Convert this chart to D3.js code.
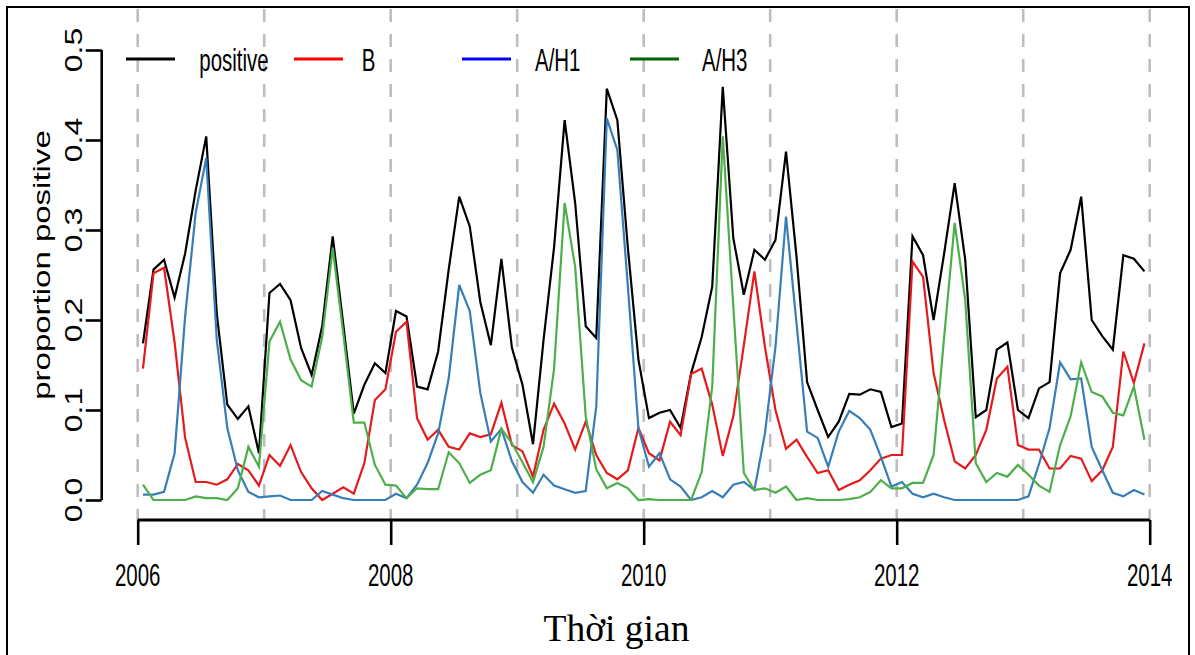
<!DOCTYPE html>
<html>
<head>
<meta charset="utf-8">
<script src="https://cdn.jsdelivr.net/npm/d3@7"></script>
<style>
html,body{margin:0;padding:0;background:#fff;}
svg{display:block;}
</style>
</head>
<body>
<svg id="chart" width="1195" height="655"></svg>
<script>
// ---- data (monthly, Jan 2006 .. Dec 2013) ----
const startYear = 2006;
const nMonths = 96;
const positive = [
0.174,0.256,0.267,0.225,0.274,0.344,0.404,0.207,0.106,0.090,0.104,0.052,
0.230,0.240,0.222,0.169,0.139,0.193,0.293,0.195,0.096,0.128,0.152,0.141,
0.210,0.204,0.126,0.123,0.165,0.256,0.337,0.304,0.220,0.172,0.268,0.169,
0.128,0.062,0.178,0.281,0.422,0.330,0.193,0.180,0.457,0.422,0.280,0.156,
0.091,0.097,0.100,0.080,0.141,0.181,0.237,0.459,0.291,0.228,0.278,0.267,
0.289,0.387,0.270,0.131,0.100,0.070,0.087,0.118,0.117,0.123,0.120,0.081,
0.085,0.293,0.272,0.200,0.274,0.352,0.267,0.092,0.100,0.167,0.175,0.100,
0.091,0.124,0.131,0.252,0.278,0.337,0.200,0.182,0.167,0.272,0.268,0.254];
const B = [
0.146,0.252,0.258,0.175,0.069,0.020,0.020,0.017,0.023,0.040,0.033,0.016,
0.050,0.038,0.061,0.031,0.013,0.000,0.007,0.014,0.007,0.041,0.111,0.123,
0.187,0.198,0.091,0.067,0.078,0.059,0.056,0.074,0.070,0.073,0.108,0.061,
0.054,0.026,0.078,0.107,0.085,0.056,0.087,0.050,0.030,0.023,0.033,0.080,
0.052,0.044,0.087,0.072,0.140,0.146,0.106,0.049,0.093,0.172,0.254,0.170,
0.100,0.057,0.067,0.048,0.030,0.033,0.011,0.017,0.022,0.033,0.046,0.050,
0.050,0.265,0.248,0.141,0.089,0.043,0.035,0.050,0.078,0.135,0.148,0.061,
0.056,0.056,0.035,0.035,0.049,0.046,0.021,0.033,0.059,0.165,0.130,0.174];
const H1 = [
0.006,0.006,0.009,0.052,0.204,0.319,0.380,0.178,0.080,0.033,0.009,0.003,
0.004,0.005,0.000,0.000,0.000,0.010,0.006,0.002,0.000,0.000,0.000,0.000,
0.007,0.002,0.017,0.041,0.074,0.135,0.239,0.210,0.119,0.065,0.079,0.043,
0.020,0.008,0.028,0.016,0.012,0.008,0.010,0.104,0.424,0.389,0.237,0.080,
0.037,0.052,0.023,0.015,0.000,0.003,0.010,0.003,0.017,0.020,0.011,0.074,
0.170,0.315,0.196,0.076,0.069,0.037,0.076,0.099,0.091,0.078,0.048,0.015,
0.020,0.007,0.003,0.007,0.003,0.000,0.000,0.000,0.000,0.000,0.000,0.000,
0.004,0.040,0.080,0.153,0.134,0.135,0.059,0.033,0.008,0.004,0.011,0.006];
const H3 = [
0.017,0.000,0.000,0.000,0.000,0.004,0.002,0.002,0.000,0.013,0.059,0.037,
0.176,0.198,0.156,0.133,0.126,0.181,0.280,0.185,0.086,0.086,0.039,0.017,
0.016,0.002,0.013,0.012,0.012,0.053,0.041,0.019,0.028,0.033,0.079,0.063,
0.042,0.020,0.059,0.146,0.330,0.259,0.093,0.034,0.013,0.019,0.013,0.000,
0.001,0.000,0.000,0.000,0.000,0.031,0.126,0.404,0.215,0.030,0.011,0.013,
0.008,0.015,0.000,0.002,0.000,0.000,0.000,0.001,0.003,0.009,0.022,0.013,
0.013,0.019,0.019,0.050,0.181,0.308,0.222,0.041,0.020,0.030,0.026,0.039,
0.028,0.016,0.009,0.061,0.093,0.153,0.120,0.115,0.097,0.094,0.126,0.067];

const seriesNames = ["positive","B","A/H1","A/H3"];
const lineColors = ["#000000","#E41A1C","#377EB8","#4DAF4A"];
const legendColors = ["#000000","#FF0000","#0000FF","#006400"];
const xTickValues = [2006,2008,2010,2012,2014];
const gridYears = [2006,2007,2008,2009,2010,2011,2012,2013,2014];
const yTickValues = [0,0.1,0.2,0.3,0.4,0.5];
const xTitle = "Thời gian";
const yTitle = "proportion positive";

// ---- layout ----
const svg = d3.select("#chart");
const x = d3.scaleLinear().domain([2006,2014]).range([137.7,1149.7]);
const y = d3.scaleLinear().domain([0,0.5]).range([500,50]);
const sx = 0.65; // horizontal compression of glyphs
const font = "'Liberation Sans', Arial, sans-serif";

// border
svg.append("rect").attr("x",7).attr("y",7).attr("width",1182).attr("height",670)
  .attr("fill","none").attr("stroke","#000").attr("stroke-width",2);

// dashed year gridlines
svg.append("g").selectAll("line").data(gridYears).join("line")
  .attr("x1",d=>x(d)).attr("x2",d=>x(d)).attr("y1",9).attr("y2",520)
  .attr("stroke","#BEBEBE").attr("stroke-width",2.6).attr("stroke-dasharray","13,12");

// series lines
const times = d3.range(nMonths).map(i => startYear + (i+0.5)/12);
const all = [positive,B,H1,H3];
const line = d3.line().x((d,i)=>x(times[i])).y(d=>y(d));
// draw order: black first then colours
all.forEach((arr,k)=>{
  svg.append("path").datum(arr).attr("d",line)
    .attr("fill","none").attr("stroke",lineColors[k]).attr("stroke-width",2.2)
    .attr("stroke-linejoin","miter").attr("stroke-linecap","butt");
});

// x axis
const xAxis = svg.append("g").attr("transform","translate(0,520)")
  .call(d3.axisBottom(x).tickValues(xTickValues).tickSize(25).tickFormat(d3.format("d")));
xAxis.select(".domain").attr("d",`M${x(2006)},0H${x(2014)}`).attr("stroke-width",3);
xAxis.selectAll(".tick line").attr("stroke-width",2.6);
xAxis.selectAll(".tick text").remove();
svg.append("g").selectAll("text").data(xTickValues).join("text")
  .attr("transform",d=>`translate(${x(d)},586) scale(${sx},1)`)
  .attr("text-anchor","middle").attr("font-family",font).attr("font-size",31.5)
  .text(d=>d3.format("d")(d));

// y axis
const yAxis = svg.append("g").attr("transform","translate(101.7,0)")
  .call(d3.axisLeft(y).tickValues(yTickValues).tickSize(16));
yAxis.select(".domain").attr("d",`M0,${y(0)}V${y(0.5)}`).attr("stroke-width",2.6);
yAxis.selectAll(".tick line").attr("stroke-width",2.6);
yAxis.selectAll(".tick text").remove();
svg.append("g").selectAll("text").data(yTickValues).join("text")
  .attr("transform",d=>`translate(81.5,${y(d)}) scale(0.72,1) rotate(-90)`)
  .attr("text-anchor","middle").attr("font-family",font).attr("font-size",32)
  .text(d=>d3.format(".1f")(d));

// axis titles
svg.append("text").attr("x",616.5).attr("y",641).attr("text-anchor","middle")
  .attr("font-family","'Liberation Serif','Times New Roman',serif").attr("font-size",37.5)
  .text(xTitle);
svg.append("text").attr("transform",`translate(50,265) scale(0.7,1) rotate(-90)`)
  .attr("text-anchor","middle").attr("font-family",font).attr("font-size",33)
  .text(yTitle);

// legend
const legX1 = [126,294,462,630];
const legTx = [199.3,361.7,535,702];
const leg = svg.append("g");
seriesNames.forEach((n,k)=>{
  leg.append("line").attr("x1",legX1[k]).attr("x2",legX1[k]+49).attr("y1",59).attr("y2",59)
    .attr("stroke",legendColors[k]).attr("stroke-width",3);
  leg.append("text").attr("transform",`translate(${legTx[k]},71) scale(${sx},1)`)
    .attr("font-family",font).attr("font-size",31.5).text(n);
});
</script>
</body>
</html>
